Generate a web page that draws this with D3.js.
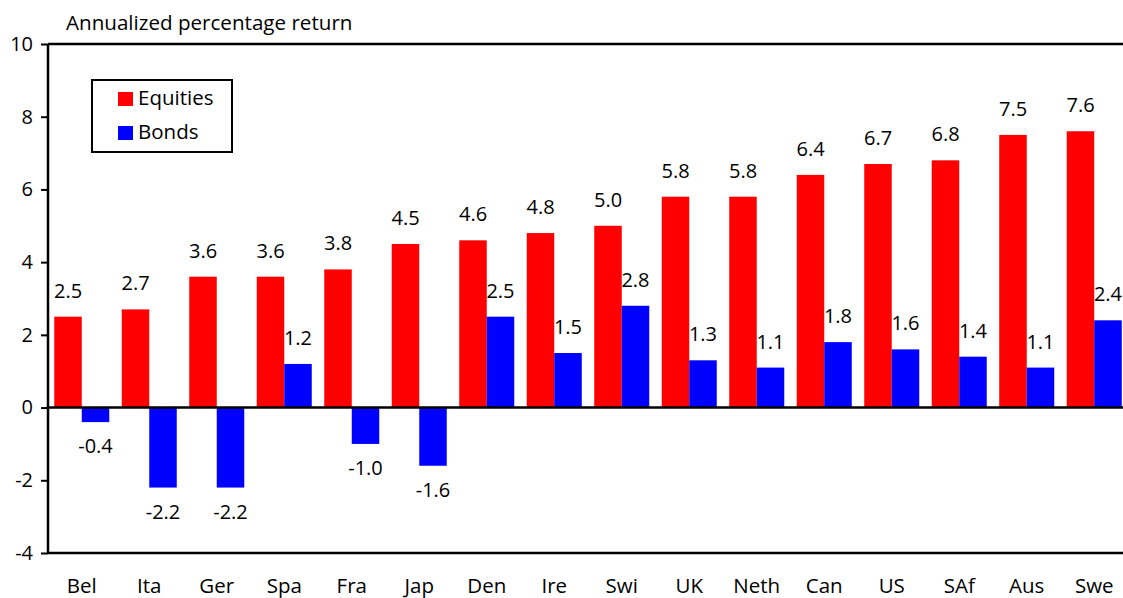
<!DOCTYPE html>
<html>
<head>
<meta charset="utf-8">
<script src="https://cdn.jsdelivr.net/npm/d3@7"></script>
<style>
  html, body { margin: 0; padding: 0; background: #fff; overflow: hidden; }
  svg { display: block; font-family: "Open Sans", "Noto Sans", sans-serif; }
</style>
</head>
<body>
<svg id="chart" width="1123" height="598"></svg>
<script>
const categories = ["Bel","Ita","Ger","Spa","Fra","Jap","Den","Ire","Swi","UK","Neth","Can","US","SAf","Aus","Swe"];
const equities = [2.5, 2.7, 3.6, 3.6, 3.8, 4.5, 4.6, 4.8, 5.0, 5.8, 5.8, 6.4, 6.7, 6.8, 7.5, 7.6];
const bonds = [-0.4, -2.2, -2.2, 1.2, -1.0, -1.6, 2.5, 1.5, 2.8, 1.3, 1.1, 1.8, 1.6, 1.4, 1.1, 2.4];
const seriesNames = ["Equities", "Bonds"];
const seriesColors = ["#ff0000", "#0000ff"];
const yTicks = [-4, -2, 0, 2, 4, 6, 8, 10];
const yTitle = "Annualized percentage return";

(function () {
const svg = d3.select("#chart");
const pLeft = 48, pRight = 1128, pTop = 44, pBottom = 553;
const FS = 20;
const locale = d3.formatLocale({decimal: ".", thousands: ",", grouping: [3], currency: ["", ""], minus: "-"});

const x = d3.scaleBand().domain(categories).range([pLeft, pRight])
  .paddingInner(0.185).paddingOuter(0.0926);
const xs = d3.scaleBand().domain(seriesNames).range([0, x.bandwidth()]).padding(0);
const y = d3.scaleLinear().domain([-4, 10]).range([pBottom, pTop]);

const rows = categories.map((c, i) => ({ c, vals: [equities[i], bonds[i]] }));

const g = svg.append("g");
const groups = g.selectAll("g.grp").data(rows).join("g")
  .attr("transform", d => `translate(${x(d.c)},0)`);

groups.selectAll("rect").data(d => d.vals.map((v, k) => ({ v, s: seriesNames[k], k })))
  .join("rect")
  .attr("x", d => xs(d.s))
  .attr("width", xs.bandwidth())
  .attr("y", d => y(Math.max(0, d.v)))
  .attr("height", d => Math.abs(y(d.v) - y(0)))
  .attr("fill", d => seriesColors[d.k]);

const fmt = locale.format(".1f");
groups.selectAll("text.val").data(d => d.vals.map((v, k) => ({ v, s: seriesNames[k], k })))
  .join("text")
  .attr("class", "val")
  .attr("x", d => xs(d.s) + xs.bandwidth() / 2)
  .attr("y", d => d.v >= 0 ? y(d.v) - 19 : y(d.v) + 31)
  .attr("text-anchor", "middle")
  .attr("font-size", FS)
  .attr("fill", "#000")
  .text(d => fmt(d.v));

// y axis
const yAxis = d3.axisLeft(y).tickValues(yTicks).tickSize(7).tickPadding(8).tickFormat(locale.format("d"));
const ya = svg.append("g").attr("transform", `translate(${pLeft},0)`).call(yAxis);
ya.select(".domain").remove();
ya.selectAll(".tick line").attr("stroke", "#000").attr("stroke-width", 2);
ya.selectAll(".tick text").attr("font-size", FS).attr("fill", "#000")
  .attr("font-family", "'Open Sans', sans-serif");

// frame lines
[y(10), y(-4), y(0)].forEach(yy => {
  svg.append("line").attr("x1", pLeft).attr("x2", 1123).attr("y1", yy).attr("y2", yy)
    .attr("stroke", "#000").attr("stroke-width", 2.5);
});
svg.append("line").attr("x1", pLeft).attr("x2", pLeft).attr("y1", y(10)).attr("y2", y(-4))
  .attr("stroke", "#000").attr("stroke-width", 2.5);

// x category labels
const xAxis = d3.axisBottom(x).tickSize(0).tickPadding(0);
const xa = svg.append("g").attr("transform", `translate(0,${pBottom})`).call(xAxis);
xa.select(".domain").remove();
xa.selectAll(".tick text").attr("dy", null).attr("y", 40).attr("font-size", 20.5).attr("fill", "#000")
  .attr("font-family", "'Open Sans', sans-serif");

// title
svg.append("text").attr("x", 66).attr("y", 30).attr("font-size", 20.6).attr("fill", "#000").text(yTitle);

// legend
const lg = svg.append("g");
lg.append("rect").attr("x", 92).attr("y", 80).attr("width", 140).attr("height", 72)
  .attr("fill", "#fff").attr("stroke", "#000").attr("stroke-width", 2);
seriesNames.forEach((s, i) => {
  lg.append("rect").attr("x", 118).attr("y", 92 + i * 34).attr("width", 15).attr("height", 14)
    .attr("fill", seriesColors[i]);
  lg.append("text").attr("x", 138).attr("y", 105 + i * 34).attr("font-size", 20.5).attr("fill", "#000").text(s);
});
})();
</script>
</body>
</html>
